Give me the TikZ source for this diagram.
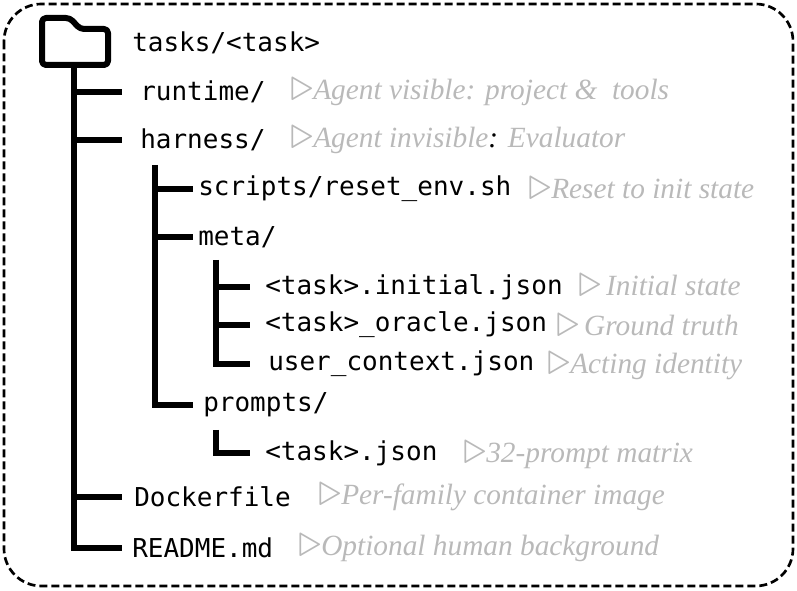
\documentclass[tikz,border=0pt]{standalone}
\usepackage{fontspec}
\usepackage{graphicx}
\setmainfont{Liberation Serif}
\setmonofont{DejaVu Sans Mono}
\usetikzlibrary{positioning}
\definecolor{notegray}{RGB}{185,185,185}
\newcommand{\tri}{\raisebox{-1pt}{\scalebox{1.7}{$\triangleright$}}}

\begin{document}
\begin{tikzpicture}[x=0.75pt,y=-0.75pt,
    file/.style={anchor=west, inner sep=0pt, font=\ttfamily\fontsize{19.5}{22}\selectfont},
    note/.style={anchor=west, inner sep=0pt, text=notegray, font=\itshape\fontsize{22}{25}\selectfont},
    tree/.style={line width=3.8pt}]

    \useasboundingbox (0,0) rectangle (797,591);
    \draw [line width=2pt, dash pattern=on 6pt off 3pt, rounded corners=28pt] (4,4) rectangle (793,586);

    % folder icon
    \draw [line width=4.5pt, line join=round, rounded corners=3pt]
        (42,65) -- (42,18) -- (70,18) -- (80,29) -- (108,29) -- (108,65) -- cycle;

    % names
    \node [file] (root)    at (132,43)  {tasks/<task>};
    \node [file] (runtime) at (140,92)  {runtime/};
    \node [file] (harness) at (140,140) {harness/};
    \node [file] (scripts) at (198,189) {scripts/reset\_env.sh};
    \node [file] (meta)    at (198,237) {meta/};
    \node [file] (initial) at (265,287) {<task>.initial.json};
    \node [file] (oracle)  at (265,325) {<task>\_oracle.json};
    \node [file] (user)    at (268,364) {user\_context.json};
    \node [file] (prompts) at (203,405) {prompts/};
    \node [file] (tjson)   at (265,453) {<task>.json};
    \node [file] (docker)  at (134,497) {Dockerfile};
    \node [file] (readme)  at (132,548) {README.md};

    % notes
    \node [note] (nrun)  at (290,92)  {\tri Agent visible: project \&\ \ tools};
    \node [note] (nhar)  at (290,140) {\tri Agent invisible\textcolor{black}{:} Evaluator};
    \node [note] (nscr)  at (528,189) {\tri Reset to init state};
    \node [note] (nini)  at (578,286) {\tri\,Initial state};
    \node [note] (nora)  at (556,326) {\tri\,Ground truth};
    \node [note] (nuse)  at (547,366) {\tri Acting identity};
    \node [note] (ntj)   at (463,455) {\tri 32-prompt matrix};
    \node [note] (ndoc)  at (318,497) {\tri Per-family container image};
    \node [note] (nrea)  at (298,548) {\tri Optional human background};

    % tree lines
    \coordinate (t1) at (74,65);
    \coordinate (t2) at (155,165);
    \coordinate (t3) at (216,260);
    \coordinate (t4) at (216,430);
    \draw [tree] (t1) |- (readme.west -| 122,0);
    \foreach \n in {runtime,harness,docker}
        \draw [tree] (t1 |- \n.west) -- (122,0 |- \n.west);
    \draw [tree] (t2) |- (193,0 |- prompts.west);
    \foreach \n in {scripts,meta}
        \draw [tree] (t2 |- \n.west) -- (193,0 |- \n.west);
    \draw [tree] (t3) |- (250,0 |- user.west);
    \foreach \n in {initial,oracle}
        \draw [tree] (t3 |- \n.west) -- (250,0 |- \n.west);
    \draw [tree] (t4) |- (250,0 |- tjson.west);

\end{tikzpicture}
\end{document}
